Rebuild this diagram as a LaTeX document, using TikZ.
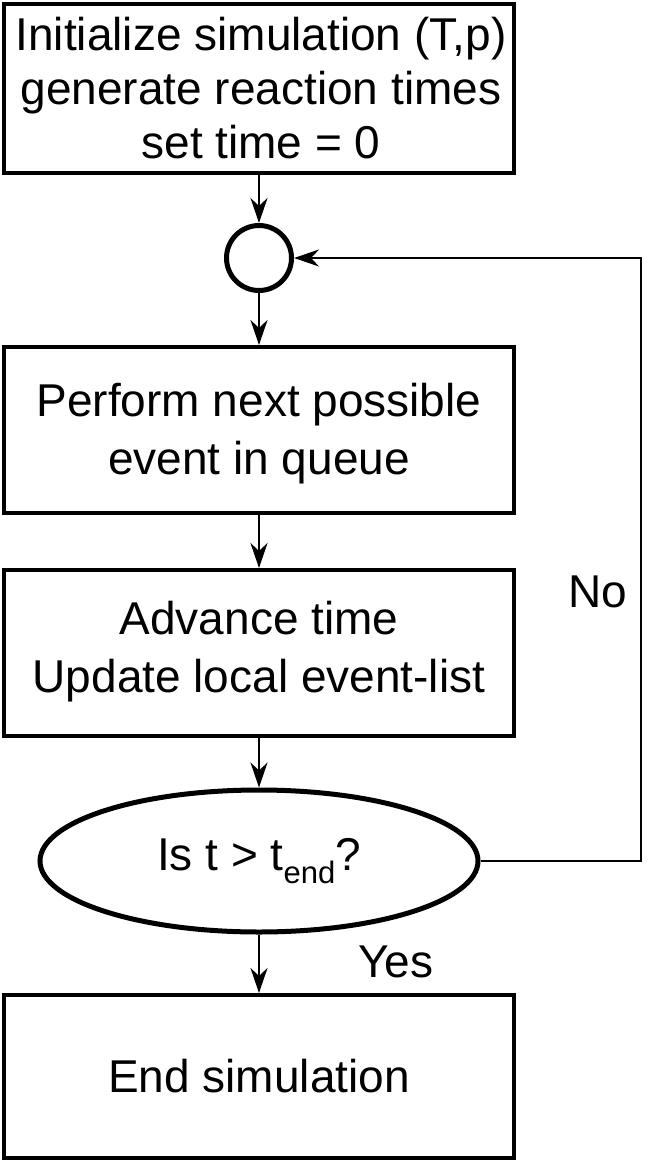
\documentclass[tikz,border=0pt]{standalone}
\usepackage{fontspec}
\setmainfont{Liberation Sans}
\usetikzlibrary{shapes.geometric,arrows.meta}
\begin{document}
\begin{tikzpicture}[x=1pt,y=1pt,
  stepbox/.style={draw,line width=4pt,rectangle,minimum width=510pt,inner sep=0pt,align=center},
  txt/.style={align=center,inner sep=0pt},
  conn/.style={line width=2.5pt,-{Stealth[length=25pt,width=17pt,inset=8pt]}},
  lbl/.style={font=\fontsize{46}{55}\selectfont}]
\useasboundingbox (0,0) rectangle (657,-1165);
\node[stepbox,minimum height=169pt] (init) at (259,-88.5) {};
\node[txt,font=\fontsize{46}{54}\selectfont] (initt) at (261,-88.5)
  {Initialize simulation (T,p)\\generate reaction times\\set time = 0};
\node[draw,circle,line width=5pt,minimum size=65pt,inner sep=0pt] (join) at (259,-258) {};
\node[stepbox,minimum height=166pt] (perform) at (259,-430) {};
\node[txt,font=\fontsize{46}{58}\selectfont] (performt) at (259,-434)
  {Perform next possible\\event in queue};
\node[stepbox,minimum height=166pt] (advance) at (259,-653) {};
\node[txt,font=\fontsize{46}{58}\selectfont] (advancet) at (259,-652)
  {Advance time\\Update local event-list};
\node[draw,ellipse,line width=5pt,minimum width=438pt,minimum height=142pt,inner sep=0pt,
  font=\fontsize{46}{55}\selectfont] (test) at (259,-861)
  {Is t > t\raisebox{-0.28em}{\fontsize{31}{31}\selectfont end}?};
\node[stepbox,minimum height=163pt,font=\fontsize{46}{55}\selectfont] (end) at (259,-1076.5)
  {End simulation};
\coordinate (c1) at (641,-861);
\coordinate (c2) at (641,-258);
\draw[conn] (init) -- (join);
\draw[conn] (join) -- (perform);
\draw[conn] (perform) -- (advance);
\draw[conn] (advance) -- (test);
\draw[conn] (test) -- (end);
\draw[conn] (test.east) -- (c1) -- (c2) -- (join.east);
\node[lbl] (yes) at (396,-962) {Yes};
\node[lbl] (no) at (598,-592) {No};
\end{tikzpicture}
\end{document}
